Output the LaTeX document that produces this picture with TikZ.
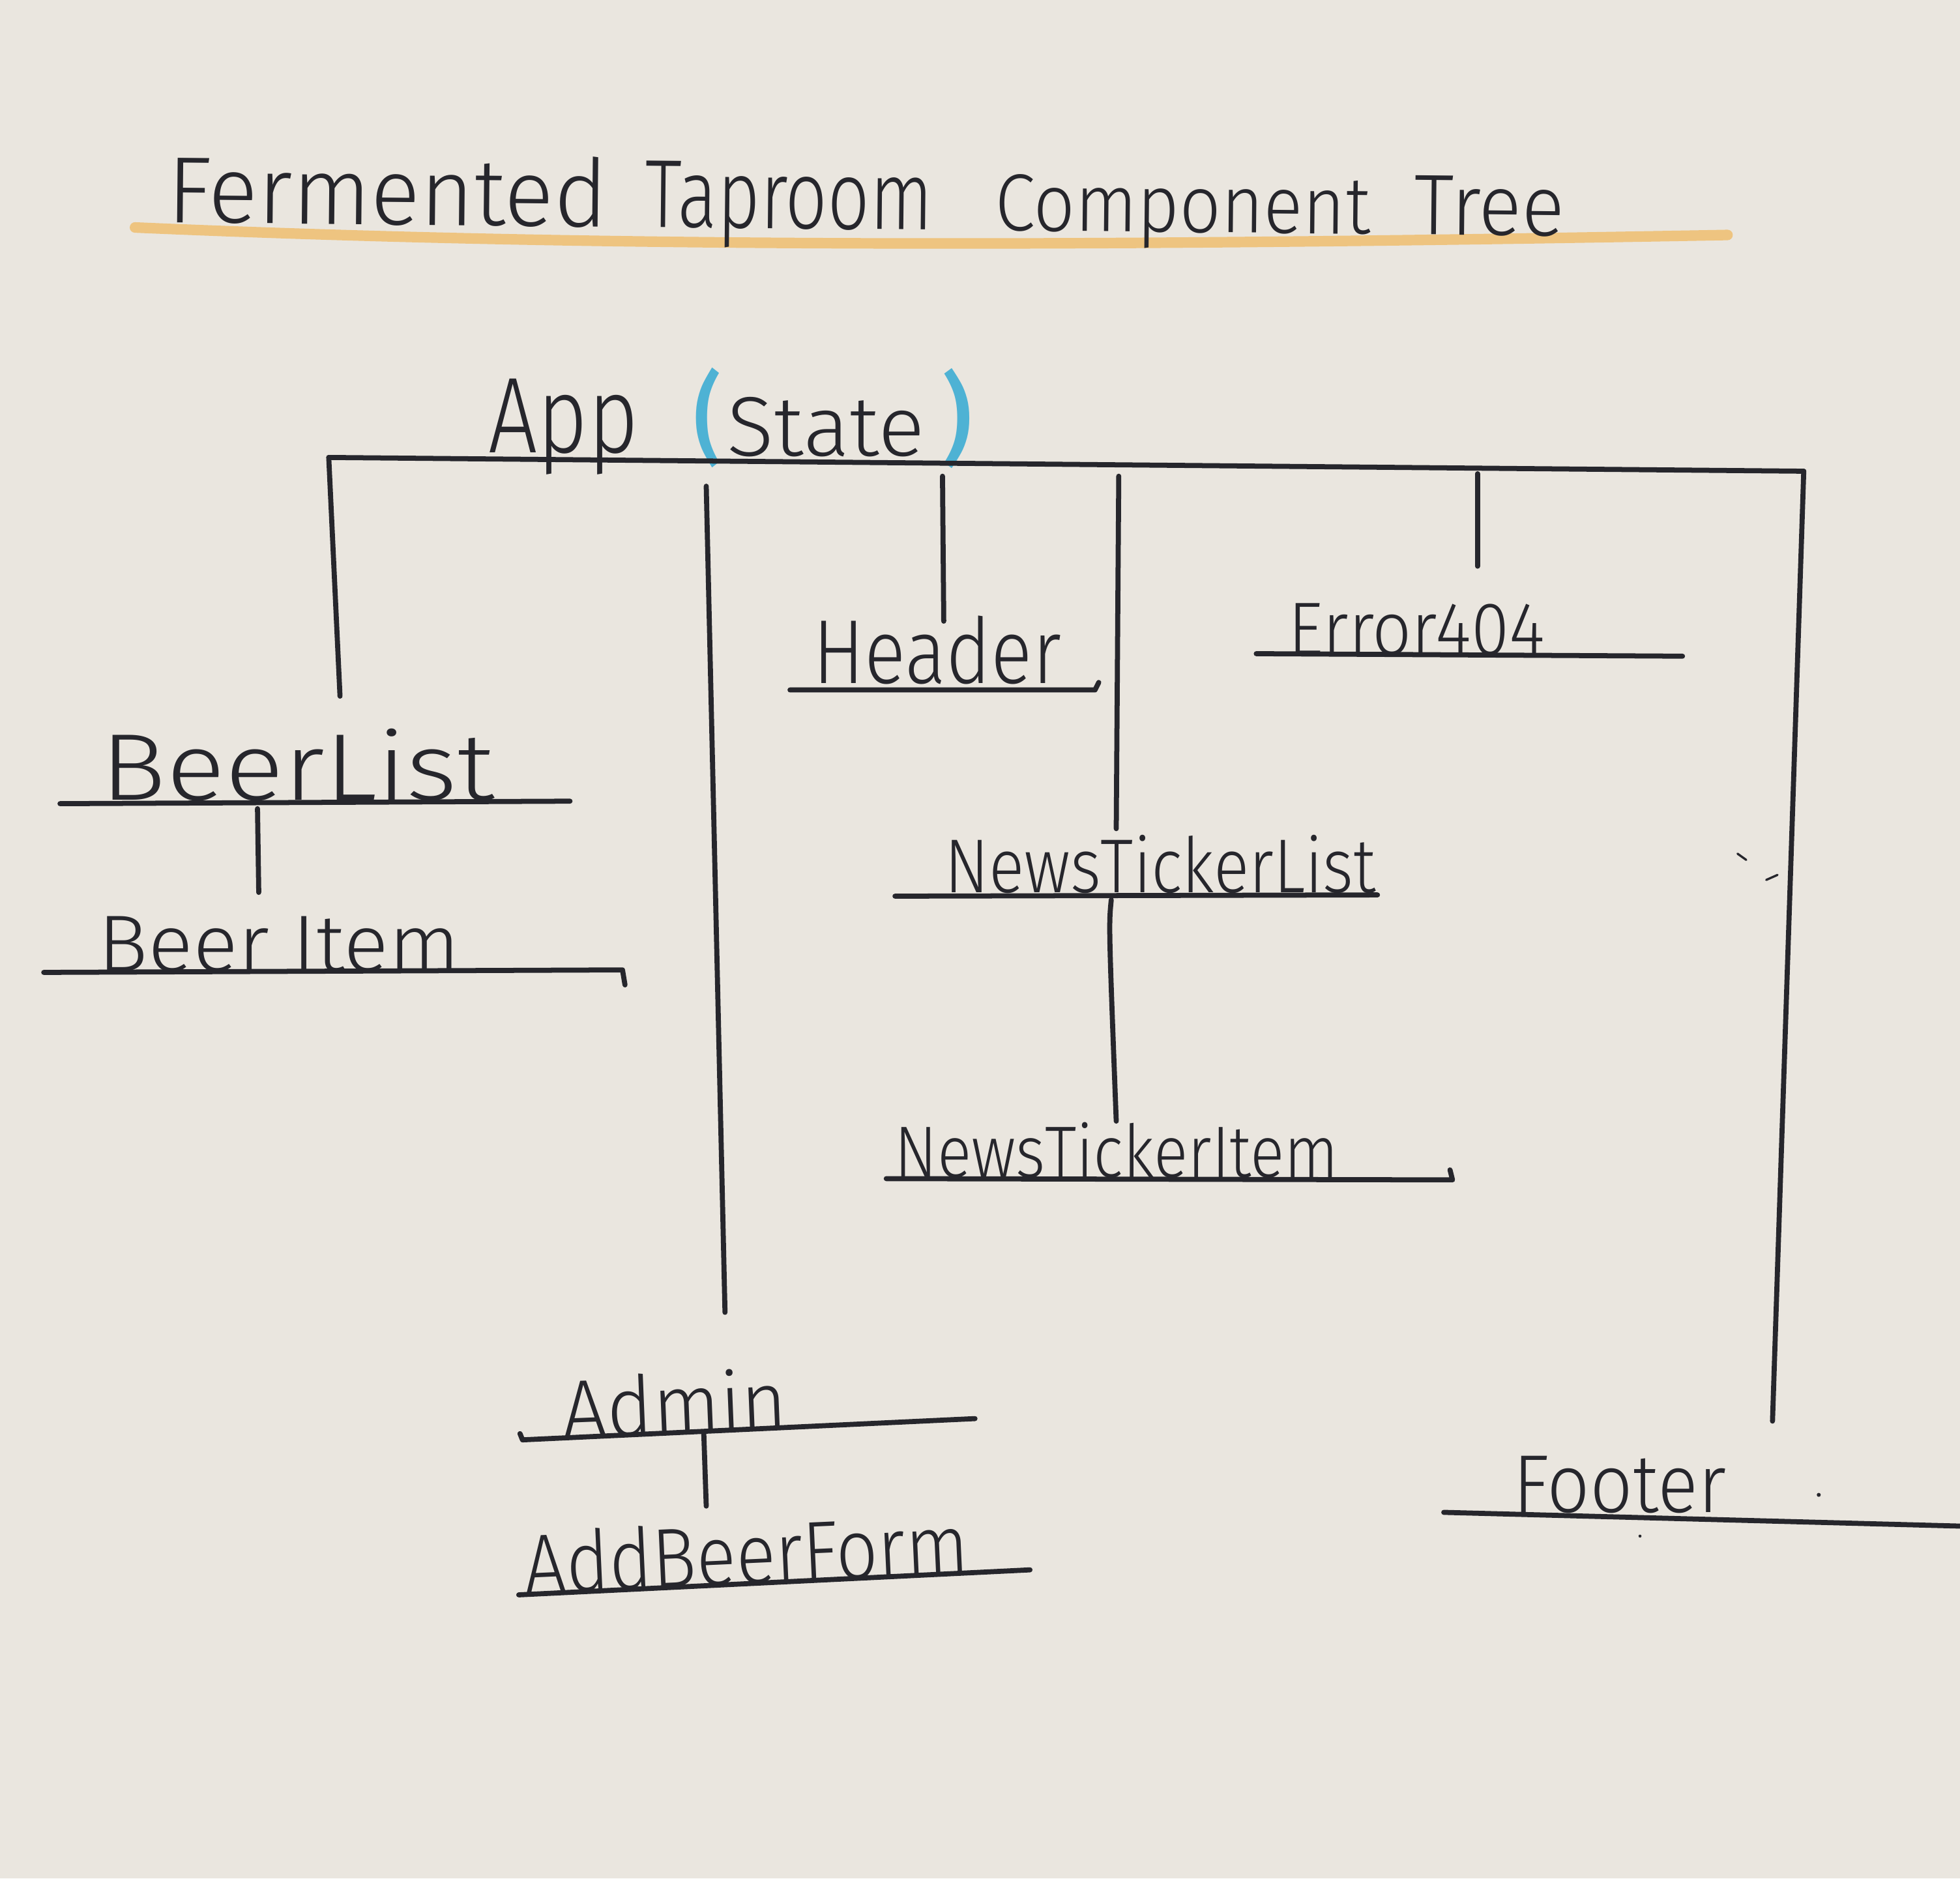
\documentclass[tikz,border=0pt]{standalone}
\usepackage{fontspec}
\setmainfont{Fira Sans}[UprightFont=* Light, BoldFont=* Medium]
\usepackage{graphicx}

\definecolor{paper}{RGB}{234,230,223}
\definecolor{ink}{RGB}{38,38,44}
\definecolor{marker}{RGB}{238,196,128}
\definecolor{stateblue}{RGB}{78,178,212}

% hand-lettered label: width and height (above the baseline) in cm
\newcommand{\handtext}[3]{\resizebox{#1cm}{#2cm}{#3}}

\begin{document}
\begin{tikzpicture}[x=0.01cm, y=-0.01cm, line cap=round, line join=round,
  wire/.style={draw=ink, line width=1.15pt},
  speck/.style={draw=ink, line width=0.5pt},
  label/.style={anchor=base west, inner sep=0pt, text=ink},
  paren/.style={inner sep=0pt, text=stateblue, font=\bfseries}]

% sheet of paper
\fill[paper] (0,0) rectangle (1568,1503);
\useasboundingbox (0,0) rectangle (1568,1503);

% ---- title with its highlighter stroke
\draw[marker, line width=2.4pt] (108,182) .. controls (500,199) and (900,197) .. (1382,188);
\node[label, rotate=-0.55] (title) at (133,178)
  {\handtext{3.52}{0.56}{Fermented}\hspace{0.30cm}%
   \handtext{2.30}{0.53}{Taproom}\hspace{0.50cm}%
   \handtext{3.00}{0.45}{Component}\hspace{0.35cm}%
   \handtext{1.20}{0.47}{Tree}};

% ---- root
\node[label] (app) at (390,362) {\handtext{1.20}{0.59}{App}};
\node[paren] (lparen) at (566,334) {\resizebox*{0.22cm}{0.80cm}{(}};
\node[label] (state) at (581,365) {\handtext{1.58}{0.47}{State}};
\node[paren] (rparen) at (766,335) {\resizebox*{0.24cm}{0.80cm}{)}};

% ---- component labels
\node[label] (beerlist) at (80,640)  {\handtext{3.15}{0.57}{BeerList}};
\node[label] (beeritem) at (78,777)  {\handtext{2.89}{0.44}{Beer Item}};
\node[label] (header)   at (650,547) {\handtext{1.98}{0.54}{Header}};
\node[label] (error)    at (1030,524) {\handtext{2.05}{0.41}{Error404}};
\node[label] (ntlist)   at (755,714) {\handtext{3.45}{0.46}{NewsTickerList}};
\node[label] (ntitem)   at (715,942) {\handtext{3.55}{0.44}{NewsTickerItem}};
\node[label, rotate=2.3] (admin) at (450,1151) {\handtext{1.80}{0.50}{Admin}};
\node[label, rotate=2.6] (addform) at (420,1275) {\handtext{3.55}{0.50}{AddBeerForm}};
\node[label] (footer)   at (1210,1210) {\handtext{1.70}{0.45}{Footer}};

% ---- underlines
\coordinate (bl-a) at (48,643);   \coordinate (bl-b) at (456,641);
\coordinate (bi-a) at (35,778);   \coordinate (bi-b) at (498,776);
\coordinate (bi-c) at (500,788);
\coordinate (hd-a) at (632,552);  \coordinate (hd-b) at (876,552);
\coordinate (hd-c) at (879,546);
\coordinate (er-a) at (1005,523); \coordinate (er-b) at (1346,525);
\coordinate (nl-a) at (716,717);  \coordinate (nl-b) at (1102,716);
\coordinate (ni-a) at (709,943);  \coordinate (ni-b) at (1162,944);
\coordinate (ni-c) at (1160,936);
\coordinate (ad-a0) at (416,1147);
\coordinate (ad-a) at (418,1152); \coordinate (ad-b) at (780,1135);
\coordinate (af-a) at (415,1276); \coordinate (af-b) at (824,1256);
\coordinate (ft-a) at (1155,1210); \coordinate (ft-b) at (1568,1221);

\draw[wire] (bl-a) -- (bl-b);
\draw[wire] (bi-a) -- (bi-b) -- (bi-c);
\draw[wire] (hd-a) -- (hd-b) -- (hd-c);
\draw[wire] (er-a) -- (er-b);
\draw[wire] (nl-a) -- (nl-b);
\draw[wire] (ni-a) -- (ni-b) -- (ni-c);
\draw[wire] (ad-a0) -- (ad-a) -- (ad-b);
\draw[wire] (af-a) -- (af-b);
\draw[wire] (ft-a) -- (ft-b);

% ---- the App bar and its branches
\coordinate (bar-l) at (263,366);
\coordinate (bar-r) at (1443,377);
\draw[wire] (bar-l) -- (bar-r);

\coordinate (to-beerlist) at (272,557);
\coordinate (admin-top) at (565,389);  \coordinate (to-admin) at (580,1050);
\coordinate (header-top) at (754,381); \coordinate (to-header) at (755,497);
\coordinate (ntl-top) at (895,381);    \coordinate (to-ntlist) at (893,663);
\coordinate (err-top) at (1182,379);   \coordinate (to-error) at (1182,453);
\coordinate (to-footer) at (1418,1137);

\draw[wire] (bar-l) -- (to-beerlist);
\draw[wire] (admin-top) -- (to-admin);
\draw[wire] (header-top) -- (to-header);
\draw[wire] (ntl-top) -- (to-ntlist);
\draw[wire] (err-top) -- (to-error);
\draw[wire] (bar-r) -- (to-footer);

% ---- second-level branches
\coordinate (bl-j) at (206,647);  \coordinate (to-beeritem) at (207,714);
\coordinate (nl-j) at (889,720);  \coordinate (to-ntitem) at (893,897);
\coordinate (ad-j) at (563,1146); \coordinate (to-addform) at (565,1205);

\draw[wire] (bl-j) -- (to-beeritem);
\draw[wire] (nl-j) .. controls (887,740) .. (to-ntitem);
\draw[wire] (ad-j) -- (to-addform);

% ---- stray pen ticks beside the footer branch
\draw[speck] (1390,683) -- (1397,688);
\draw[speck] (1413,704) -- (1422,700);
\fill[ink] (1455,1196) circle (1.6);
\fill[ink] (1312,1229) circle (1.2);

\end{tikzpicture}
\end{document}
